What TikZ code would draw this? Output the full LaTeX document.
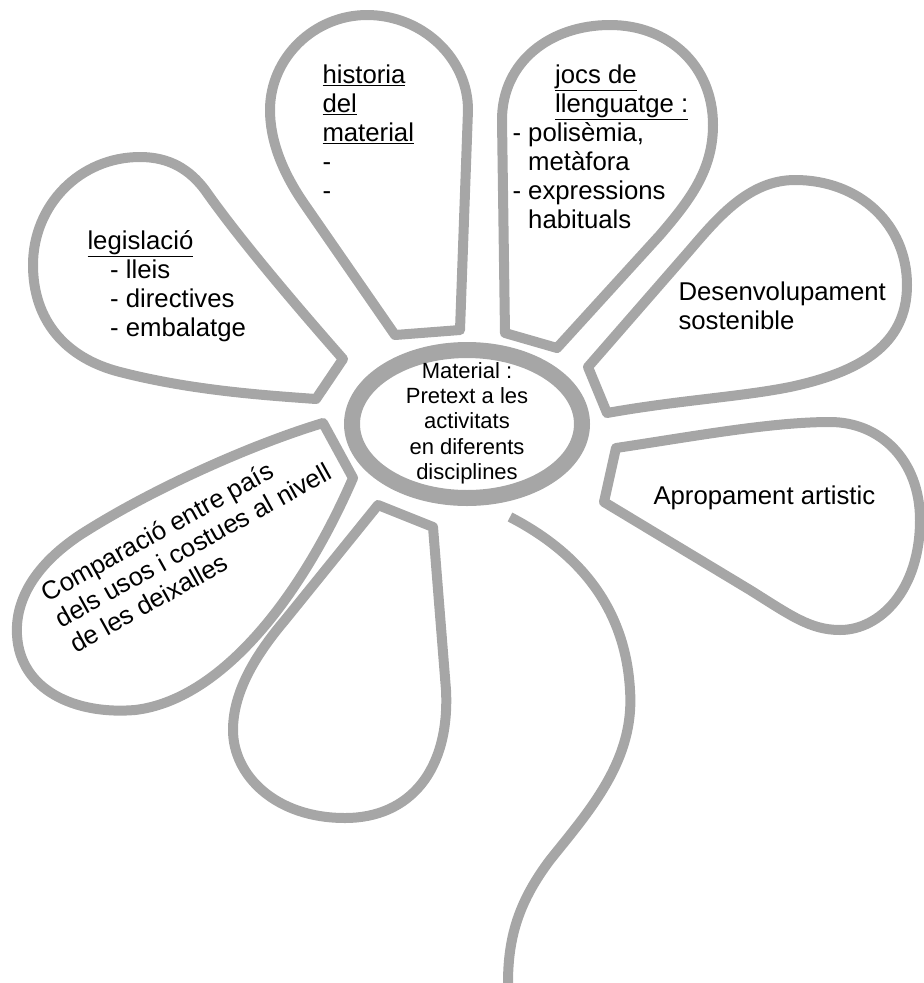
\documentclass[tikz,border=0pt]{standalone}
\usepackage{fontspec}
\setmainfont{Liberation Sans}
\definecolor{petalgrey}{RGB}{166,166,166}
\tikzset{every picture/.style={line width=0.75pt}}
\tikzset{
  petalline/.style={draw=petalgrey, line width=7.5pt, line join=round},
  ringline/.style={draw=petalgrey, line width=12pt},
  petaltext/.style={font=\fontsize{19.3}{21.8}\selectfont, align=left, inner sep=0pt, anchor=north west},
  hearttext/.style={font=\fontsize{16.5}{19}\selectfont, align=center, inner sep=0pt}
}

\begin{document}
\begin{tikzpicture}[x=0.75pt,y=0.75pt,yscale=-1,xscale=1]
	\useasboundingbox (0,0) rectangle (924,983);

	%Shape: Petal (historia)
	\draw [petalline] (395,335) -- (305,205) .. controls (282,172) and (270,140) .. (270,110) .. controls (270,58) and (314,15) .. (367,15) .. controls (422,15) and (468,58) .. (468,110) -- (460,330) -- cycle ;
	%Shape: Petal (jocs)
	\draw [petalline] (505,333) -- (502,120) .. controls (502,62) and (550,25) .. (610,25) .. controls (668,25) and (713,65) .. (713,125) .. controls (713,170) and (690,200) .. (660,235) -- (557,348) -- cycle ;
	%Shape: Petal (desenvolupament)
	\draw [petalline] (607,413) -- (588,367) -- (690,250) .. controls (719,216) and (750,180) .. (795,180) .. controls (860,180) and (907,225) .. (907,285) .. controls (907,345) and (860,372) .. (790,387) .. controls (740,397) and (680,400) .. (607,413) -- cycle ;
	%Shape: Petal (apropament)
	\draw [petalline] (604,502) -- (616,448) .. controls (690,437) and (770,422) .. (830,422) .. controls (880,422) and (920,460) .. (920,520) .. controls (920,590) and (880,630) .. (840,630) .. controls (810,630) and (790,615) .. (750,590) -- cycle ;
	%Shape: Petal (bottom)
	\draw [petalline] (378,505) -- (433,527) -- (446,690) .. controls (450,770) and (410,818) .. (345,818) .. controls (275,818) and (233,775) .. (233,730) .. controls (233,690) and (258,652) .. (285,620) -- cycle ;
	%Shape: Petal (comparacio)
	\draw [petalline] (353,478) -- (323,423) .. controls (250,445) and (150,490) .. (80,535) .. controls (35,565) and (15,600) .. (17,635) .. controls (20,690) and (75,715) .. (135,710) .. controls (220,700) and (300,600) .. (353,478) -- cycle ;
	%Shape: Petal (legislacio)
	\draw [petalline] (316,399) -- (343,359) .. controls (300,310) and (240,240) .. (205,190) .. controls (190,170) and (170,157) .. (140,157) .. controls (80,157) and (33,205) .. (33,265) .. controls (33,320) and (65,358) .. (120,372) .. controls (190,390) and (260,395) .. (316,399) -- cycle ;

	%Shape: Ellipse
	\draw [ringline] (467,424) ellipse (115 and 74) ;
	%Curve Lines: stem
	\draw [petalline, line cap=butt] (510,517) .. controls (570,548) and (625,600) .. (630,690) .. controls (635,760) and (590,810) .. (550,860) .. controls (520,900) and (508,935) .. (508,983) ;

	% Text Node
	\draw (467,423) node [hearttext] (material) {Material :\\Pretext a les\\activitats\\en diferents\\disciplines};
	% Text Node
	\draw (322,64) node [petaltext] (historia) {\underline{historia}\\\underline{del}\\\underline{material}\\-\\-};
	% Text Node
	\draw (512,64) node [petaltext] (jocs) {\hspace*{32pt}\underline{jocs de}\\\hspace*{32pt}\underline{llenguatge :}\\- polisèmia,\\\hphantom{- }metàfora\\- expressions\\\hphantom{- }habituals};
	% Text Node
	\draw (87,230) node [petaltext] (legislacio) {\underline{legislació}\\\hspace*{17pt}- lleis\\\hspace*{17pt}- directives\\\hspace*{17pt}- embalatge};
	% Text Node
	\draw (678,281) node [petaltext] (desenvolupament) {Desenvolupament\\sostenible};
	% Text Node
	\draw (653,485) node [petaltext] (apropament) {Apropament artistic};
	% Text Node
	\draw (38,586) node [petaltext, rotate=29] (comparacio) {Comparació entre país\\dels usos i costues al nivell\\de les deixalles};

\end{tikzpicture}
\end{document}
